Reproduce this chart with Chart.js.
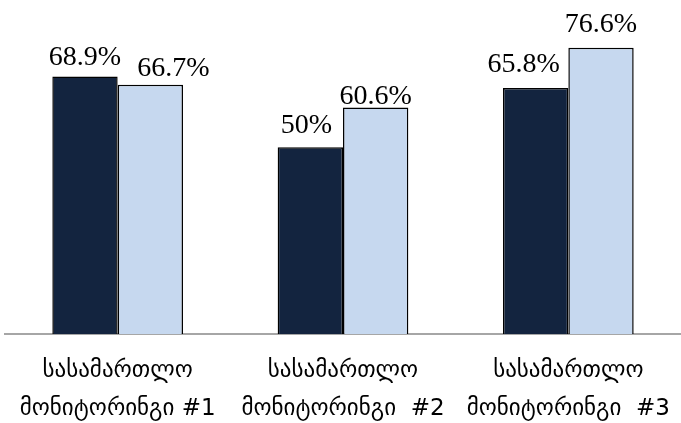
<!DOCTYPE html>
<html>
<head>
<meta charset="utf-8">
<script src="https://cdn.jsdelivr.net/npm/chart.js@4"></script>
<style>
html,body{margin:0;padding:0;background:#fff;}
#wrap{width:681px;height:423px;}
</style>
</head>
<body>
<div id="wrap"><canvas id="c" width="681" height="423"></canvas></div>
<script>
const categories = [
  ["სასამართლო", "მონიტორინგი #1"],
  ["სასამართლო", "მონიტორინგი  #2"],
  ["სასამართლო", "მონიტორინგი  #3"]
];
const seriesA = [68.9, 50, 65.8];
const seriesB = [66.7, 60.6, 76.6];
const labelsA = ["68.9%", "50%", "65.8%"];
const labelsB = ["66.7%", "60.6%", "76.6%"];

const FONT = "'Liberation Serif', serif";
const GEO_FONT = "'DejaVu Sans', sans-serif";

const valueLabels = {
  id: 'valueLabels',
  afterDatasetsDraw(chart, args, opts) {
    const ctx = chart.ctx;
    ctx.save();
    ctx.font = opts.font;
    ctx.fillStyle = '#000';
    ctx.textAlign = 'center';
    ctx.textBaseline = 'alphabetic';
    chart.data.datasets.forEach((ds, di) => {
      const meta = chart.getDatasetMeta(di);
      meta.data.forEach((bar, i) => {
        const sh = opts.shift[di][i];
        ctx.fillText(ds.valueText[i], bar.x + sh[0], bar.y + sh[1]);
      });
    });
    ctx.restore();
  }
};

new Chart(document.getElementById('c'), {
  type: 'bar',
  data: {
    labels: categories,
    datasets: [
      { data: seriesA, valueText: labelsA, backgroundColor: '#13243f', borderColor: '#000', borderWidth: 1.5, borderSkipped: 'bottom' },
      { data: seriesB, valueText: labelsB, backgroundColor: '#c6d8ef', borderColor: '#000', borderWidth: 1.5, borderSkipped: 'bottom' }
    ]
  },
  plugins: [valueLabels],
  options: {
    responsive: false,
    animation: false,
    events: [],
    layout: { padding: { left: 5, right: 0, top: 35, bottom: 0 } },
    datasets: { bar: { categoryPercentage: 0.58, barPercentage: 1.0 } },
    plugins: {
      legend: { display: false },
      tooltip: { enabled: false },
      valueLabels: {
        font: "28px " + FONT,
        shift: [[[0, -11], [-4, -14], [-12, -16]], [[23, -9], [0, -4], [0, -16]]]
      }
    },
    scales: {
      y: { display: false, min: 0, max: 80 },
      x: {
        grid: { display: false, drawTicks: false },
        border: { display: true, color: '#a6a6a6', width: 2 },
        ticks: { color: '#000', font: { family: GEO_FONT, size: 23, lineHeight: 1.65 }, padding: 18, maxRotation: 0, autoSkip: false },
        afterFit(scale) { scale.height = 89; scale.paddingLeft = 0; scale.paddingRight = 0; }
      }
    }
  }
});
</script>
</body>
</html>
